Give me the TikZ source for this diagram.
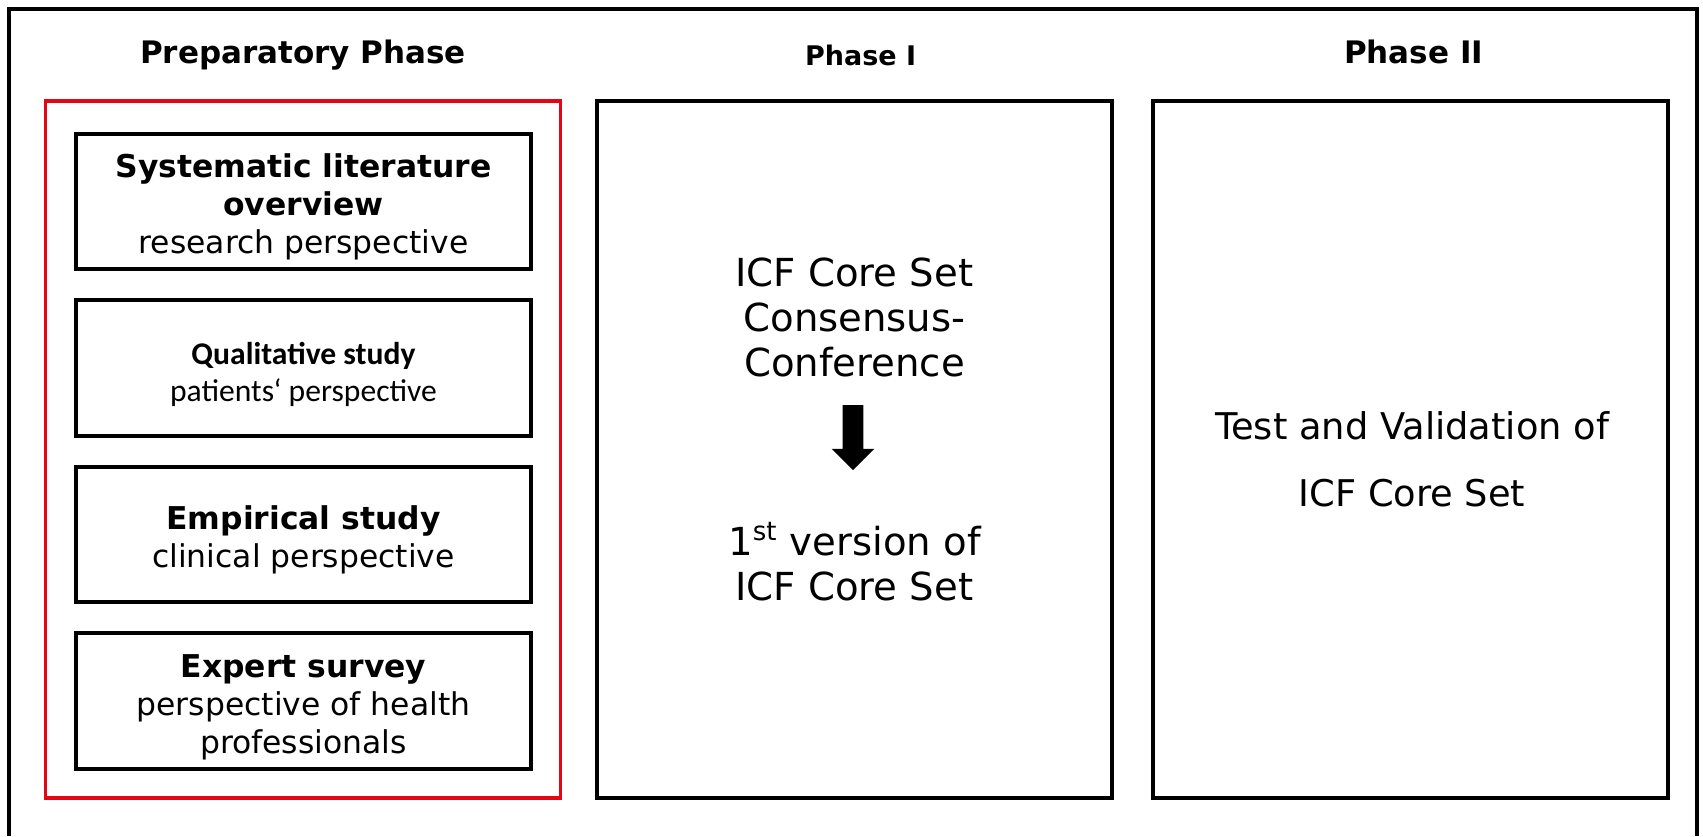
\documentclass[tikz,border=0pt]{standalone}
\usepackage{fontspec}
\setmainfont{DejaVu Sans}
\newfontfamily\calibrifont{Carlito}
\usetikzlibrary{positioning, shapes.arrows}
\definecolor{framered}{RGB}{227,6,19}
\newcommand{\topgap}{\rule{0pt}{17.5pt}}
\tikzset{%
	phase/.style={draw, rectangle, line width=2pt, minimum width=257.5pt, minimum height=348.5pt,%
		inner sep=0pt, outer sep=0pt},
	prepbox/.style={phase, draw=framered, line width=1.7pt},
	study/.style={draw, rectangle, line width=2pt, minimum width=227.5pt, minimum height=67.75pt,%
		inner sep=0pt, outer sep=0pt, align=center, font=\fontsize{15.7}{19}\selectfont},
	phasetitle/.style={anchor=base, font=\bfseries\fontsize{15.5}{18}\selectfont},
	bigtext/.style={align=center, font=\fontsize{19.3}{22.5}\selectfont},
	blockarrow/.style={single arrow, fill=black, draw=none, rotate=-90, inner sep=5pt,%
		minimum height=32.5pt, single arrow head extend=5.5pt}
}
\begin{document}
\begin{tikzpicture}[x=0.5pt, y=-0.5pt]
	\useasboundingbox (0,0) rectangle (1703,836);
	\draw [line width=2pt] (9,836) -- (9,9) -- (1697,9) -- (1697,836);

	\node [prepbox] (prep) at (303,449.5) {};
	\node [phase, right=18.3pt of prep] (ph1) {};
	\node [phase, right=20.5pt of ph1] (ph2) {};

	\node [phasetitle] (prepT) at ([yshift=19pt]prep.north) {Preparatory Phase};
	\node [phasetitle, font=\bfseries\fontsize{13.5}{16}\selectfont] (ph1T) at ([xshift=3pt, yshift=18pt]ph1.north) {Phase I};
	\node [phasetitle] (ph2T) at ([xshift=1.5pt, yshift=19pt]ph2.north) {Phase II};

	%preparatory
	\node [study] (lit) at (303.5,201.3) {\topgap\textbf{Systematic literature}\\\textbf{overview}\\research perspective};
	\node [study, below=15.5pt of lit, font=\calibrifont\fontsize{15.8}{18.5}\selectfont] (qual) {\topgap\textbf{Qualitative study}\\patients‘ perspective};
	\node [study, below=15.5pt of qual] (emp) {\topgap\textbf{Empirical study}\\clinical perspective};
	\node [study, below=15.5pt of emp] (exp) {\topgap\textbf{Expert survey}\\perspective of health\\professionals};

	%phase I
	\node [bigtext] (conf) at (854.5,317) {ICF Core Set\\Consensus-\\Conference};
	\node [blockarrow] (arr) at (853,432.5) {};
	\node [bigtext] (first) at (854.5,562) {1\textsuperscript{\fontsize{13}{13}\selectfont st} version of\\ICF Core Set};

	%phase II
	\node [bigtext, font=\fontsize{18.4}{33.5}\selectfont] (valid) at (1412,459.5) {Test and Validation of\\ICF Core Set};
\end{tikzpicture}
\end{document}
